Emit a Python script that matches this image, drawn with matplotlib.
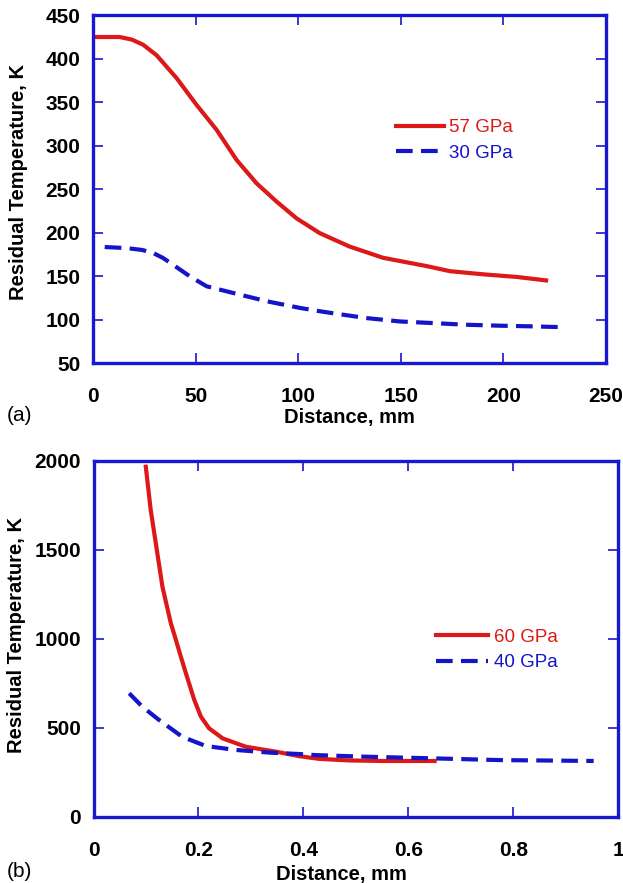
import matplotlib
matplotlib.use("Agg")
import matplotlib.pyplot as plt
from matplotlib.ticker import FuncFormatter

plt.rcParams['font.family'] = ['Liberation Sans', 'DejaVu Sans']

SPINE = "#1818d0"
RED = "#dd1818"
BLUE = "#1414c8"

# panel (a): residual temperature vs distance
A57_X = [0, 13, 19, 24.5, 31, 40.8, 50.5, 60.3, 70, 79.7, 89.5, 99.2, 110.4,
         125, 141.4, 162.5, 174, 190.2, 206.5, 220.8]
A57_Y = [425, 425, 422, 416, 404, 377.5, 346.8, 318, 283.5, 256.7, 235.6, 216.4,
         199.5, 184, 171, 161.5, 155.6, 152, 149, 145]
A30_X = [5.7, 16.3, 24, 29.3, 34, 39, 47.2, 55.4, 68.4, 84.7, 101, 110.7, 117, 133.2,
         149.5, 165.8, 182, 198.4, 214.7, 227.7]
A30_Y = [183.4, 182.2, 180, 176.5, 171, 163, 149.7, 138.2, 130.5, 121, 113.3, 109.5,
         107.2, 101.7, 97.8, 95.9, 94, 92.9, 92.1, 91.3]

# panel (b)
B60_X = [0.0996, 0.109, 0.1187, 0.1313, 0.1473, 0.157, 0.1664, 0.176, 0.192, 0.2046,
         0.220, 0.246, 0.290, 0.348, 0.392, 0.429, 0.487, 0.551, 0.65]
B60_Y = [1966, 1723, 1536, 1292, 1087, 993, 899, 806, 656, 562, 497, 440, 393, 365,
         340, 325, 316, 313, 313]
B40_X = [0.068, 0.093, 0.125, 0.169, 0.214, 0.271, 0.335, 0.392, 0.423, 0.519,
         0.647, 0.774, 0.953]
B40_Y = [693, 618, 543, 449, 397, 375, 360, 352, 346, 337, 327.7, 318, 313]


def style(ax):
    for s in ax.spines.values():
        s.set_color(SPINE)
        s.set_linewidth(2.4)
    ax.tick_params(direction="in", length=7, width=1.2, color=SPINE,
                   top=True, right=True, labelsize=15)
    ax.tick_params(axis="x", pad=17.5)
    ax.tick_params(axis="y", pad=9)
    for lab in ax.get_xticklabels() + ax.get_yticklabels():
        lab.set_fontweight("bold")


def numfmt(v, pos):
    return ("%g" % v)


fig = plt.figure(figsize=(6.23, 8.83), dpi=100)

# ---- (a)
ax1 = fig.add_axes([0.1493, 0.5889, 0.8234, 0.3938])
ax1.plot(A57_X, A57_Y, color=RED, lw=3, label="57 GPa")
ax1.plot(A30_X, A30_Y, color=BLUE, lw=3, ls=(0, (4, 2)), label="30 GPa")
ax1.set_xlim(0, 250)
ax1.set_ylim(50, 450)
ax1.set_xticks(range(0, 251, 50))
ax1.set_yticks(range(50, 451, 50))
style(ax1)
ax1.set_xlabel("Distance, mm", fontsize=14.5, fontweight="bold")
ax1.set_ylabel("Residual Temperature, K", fontsize=14.5, fontweight="bold")
ax1.xaxis.label.set_va("center")
ax1.yaxis.label.set_va("center")
ax1.xaxis.set_label_coords(0.5, -0.156)
ax1.yaxis.set_label_coords(-0.146, 0.52)
ax1.legend(loc="center left", bbox_to_anchor=(0.557, 0.64), frameon=False,
           fontsize=13.5, handlelength=2.6, handletextpad=0.25,
           labelspacing=0.45, labelcolor="linecolor")
fig.text(0.011, 0.53, "(a)", fontsize=15, va="center")

# ---- (b)
ax2 = fig.add_axes([0.1501, 0.0751, 0.8424, 0.4032])
ax2.plot(B60_X, B60_Y, color=RED, lw=3, label="60 GPa")
ax2.plot(B40_X, B40_Y, color=BLUE, lw=3, ls=(0, (4, 2)), label="40 GPa")
ax2.set_xlim(0, 1)
ax2.set_ylim(0, 2000)
ax2.set_xticks([0, 0.2, 0.4, 0.6, 0.8, 1.0])
ax2.set_yticks(range(0, 2001, 500))
ax2.xaxis.set_major_formatter(FuncFormatter(numfmt))
style(ax2)
ax2.set_xlabel("Distance, mm", fontsize=14.5, fontweight="bold")
ax2.set_ylabel("Residual Temperature, K", fontsize=14.5, fontweight="bold")
ax2.xaxis.label.set_va("center")
ax2.yaxis.label.set_va("center")
ax2.xaxis.set_label_coords(0.472, -0.163)
ax2.yaxis.set_label_coords(-0.146, 0.51)
ax2.legend(loc="center left", bbox_to_anchor=(0.62, 0.468), frameon=False,
           fontsize=13.5, handlelength=2.8, handletextpad=0.3,
           labelspacing=0.45, labelcolor="linecolor")
fig.text(0.011, 0.013, "(b)", fontsize=15, va="center")

fig.savefig("out.png", dpi=100)
